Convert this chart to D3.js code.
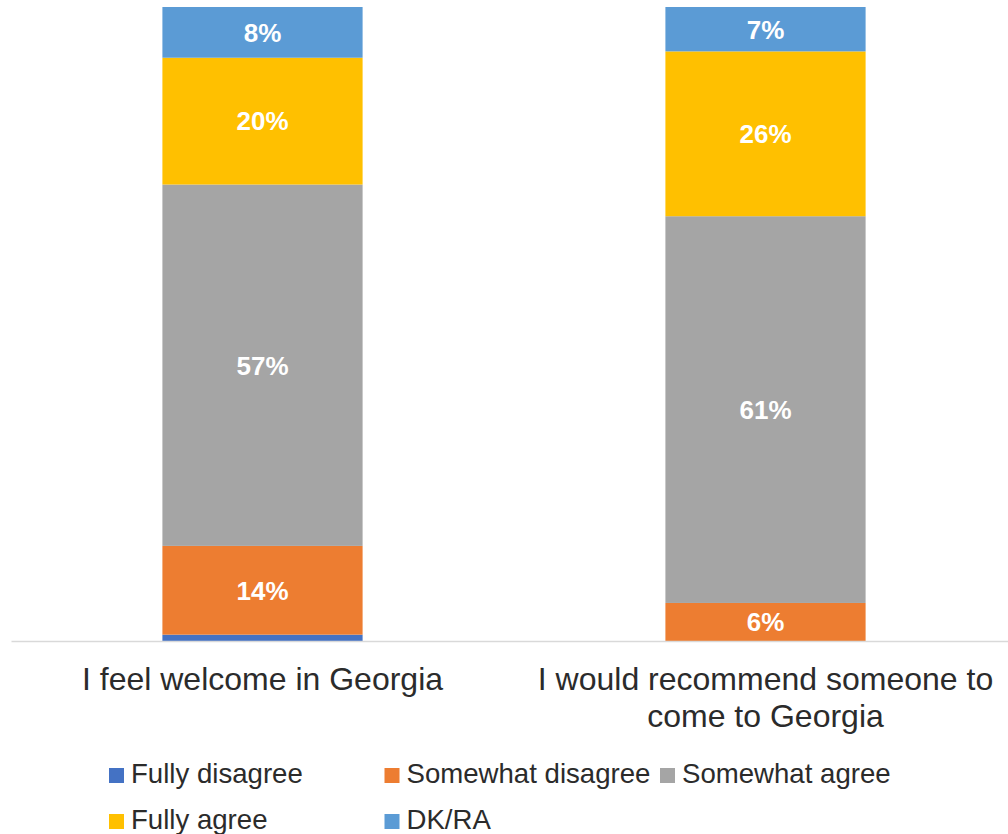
<!DOCTYPE html>
<html>
<head>
<meta charset="utf-8">
<script src="https://cdn.jsdelivr.net/npm/d3@7"></script>
<style>
  html, body { margin: 0; padding: 0; background: #fff; }
  svg { display: block; font-family: "Liberation Sans", Arial, sans-serif; }
</style>
</head>
<body>
<svg id="chart" width="1008" height="834"></svg>
<script>
// Survey statements (x categories), each split into answer shares (percent)
const categories = [
  ["I feel welcome in Georgia"],
  ["I would recommend someone to", "come to Georgia"]
];
const seriesNames = ["Fully disagree", "Somewhat disagree", "Somewhat agree", "Fully agree", "DK/RA"];
const fullyDisagree    = [1, 0];
const somewhatDisagree = [14, 6];
const somewhatAgree    = [57, 61];
const fullyAgree       = [20, 26];
const dkRa             = [8, 7];
const seriesColors = ["#4472C4", "#ED7D31", "#A5A5A5", "#FFC000", "#5B9BD5"];

const seriesValues = [fullyDisagree, somewhatDisagree, somewhatAgree, fullyAgree, dkRa];
const rows = categories.map((c, i) => {
  const r = { key: i };
  seriesNames.forEach((s, j) => { r[s] = seriesValues[j][i]; });
  return r;
});

const svg = d3.select("#chart");
const baseY = 641, topY = 7;

const x = d3.scaleBand()
  .domain(categories.map((c, i) => i))
  .range([11, 1017])
  .paddingInner(0.602)
  .paddingOuter(0.301);

const y = d3.scaleLinear().domain([0, 100]).range([baseY, topY]);

const stacked = d3.stack().keys(seriesNames)(rows);

const layers = svg.append("g").selectAll("g")
  .data(stacked)
  .join("g")
  .attr("fill", (d, i) => seriesColors[i]);

layers.selectAll("rect")
  .data(d => d)
  .join("rect")
  .attr("x", d => x(d.data.key))
  .attr("width", x.bandwidth())
  .attr("y", d => y(d[1]))
  .attr("height", d => y(d[0]) - y(d[1]));

// value labels for segments of 2% and more
layers.selectAll("text")
  .data(d => d.filter(p => p[1] - p[0] >= 2))
  .join("text")
  .attr("x", d => x(d.data.key) + x.bandwidth() / 2)
  .attr("y", d => (y(d[0]) + y(d[1])) / 2)
  .attr("dy", "0.36em")
  .attr("text-anchor", "middle")
  .attr("fill", "#fff")
  .attr("font-weight", "bold")
  .attr("font-size", 26)
  .text(d => Math.round(d[1] - d[0]) + "%");

// category axis
const axis = svg.append("g").attr("transform", `translate(0,${baseY})`)
  .call(d3.axisBottom(x).tickSize(0).tickFormat(""));
axis.select(".domain").attr("stroke", "#D9D9D9").attr("stroke-width", 1.5);

const catLabels = svg.append("g").selectAll("text")
  .data(categories)
  .join("text")
  .attr("x", (c, i) => x(i) + x.bandwidth() / 2)
  .attr("y", 690)
  .attr("text-anchor", "middle")
  .attr("fill", "#2b2b2b")
  .attr("font-size", 32);
catLabels.selectAll("tspan")
  .data(d => d)
  .join("tspan")
  .attr("x", function () { return d3.select(this.parentNode).attr("x"); })
  .attr("dy", (d, i) => i === 0 ? 0 : 37)
  .text(d => d);

// legend
const legend = svg.append("g").selectAll("g")
  .data(seriesNames)
  .join("g")
  .attr("transform", (d, i) => `translate(${109 + (i % 3) * 275.5},${i < 3 ? 768 : 814})`);
legend.append("rect")
  .attr("width", 15).attr("height", 15)
  .attr("fill", (d, i) => seriesColors[i]);
legend.append("text")
  .attr("x", 22).attr("y", 15)
  .attr("fill", "#2b2b2b")
  .attr("font-size", 27.6)
  .text(d => d);
</script>
</body>
</html>
